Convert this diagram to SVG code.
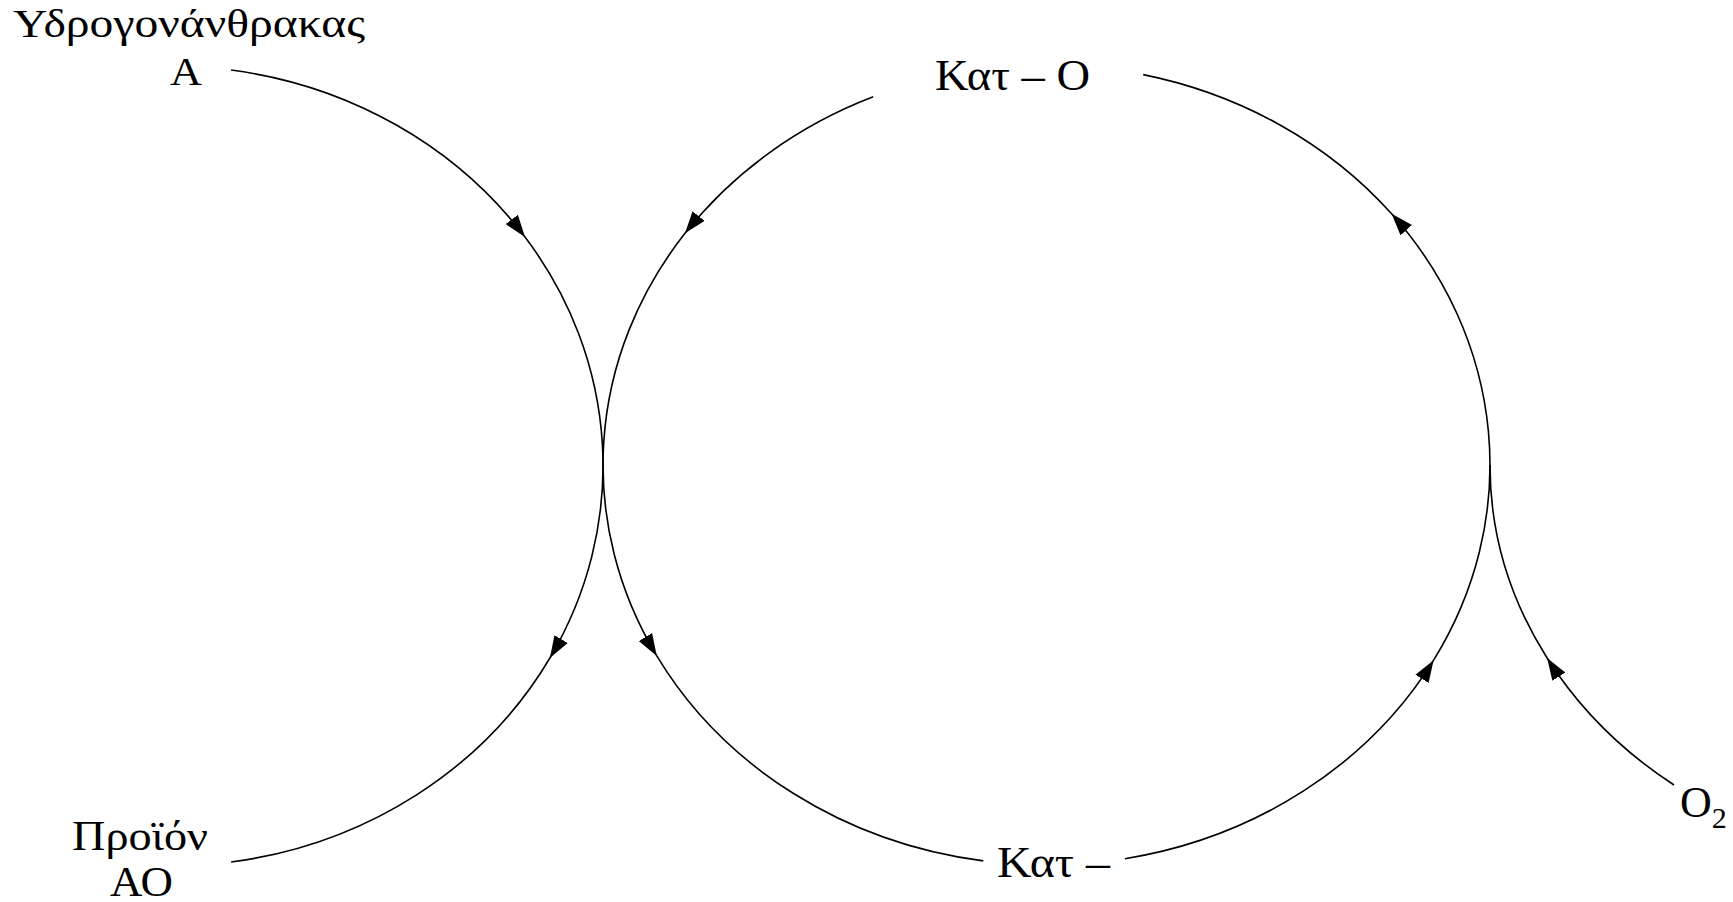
<svg xmlns="http://www.w3.org/2000/svg" width="1733" height="902" viewBox="0 0 1733 902">
<style>
text{font-family:"Liberation Serif","Times New Roman",serif;fill:#000}
.c{fill:none;stroke:#000;stroke-width:1.6;marker-mid:url(#arr)}
</style>
<defs>
<marker id="arr" markerUnits="userSpaceOnUse" markerWidth="22" markerHeight="16" viewBox="0 0 20 14" refX="20" refY="7" orient="auto"><path d="M0,0 L20,7 L0,14 Z" fill="#000"/></marker>
</defs>
<rect width="1733" height="902" fill="#fff"/>
<g id="connectors">
<path class="c" d="M231.1,70 A433 400 0 0 1 525,237 A433 400 0 0 1 549.9,658 A433 400 0 0 1 231.1,862"/>
<path class="c" d="M873.2,96.8 A443.5 400 0 0 0 685,233.3 A443.5 400 0 0 0 656.8,655.9 A443.5 400 0 0 0 983.3,860.9"/>
<path class="c" d="M1125,858.7 A443.5 400 0 0 0 1433.6,660.2 A443.5 400 0 0 0 1391.6,213.8 A443.5 400 0 0 0 1143.2,74.6"/>
<path class="c" d="M1674,785 A460 400 0 0 1 1547.1,658 A460 400 0 0 1 1490,465"/>
</g>
<g id="hydrocarbon">
<text x="13" y="37" font-size="40" textLength="352" lengthAdjust="spacingAndGlyphs">Υδρογονάνθρακας</text>
<text x="170" y="85" font-size="39" textLength="32" lengthAdjust="spacingAndGlyphs">Α</text>
</g>
<g id="cat-o">
<text x="935" y="90" font-size="44" textLength="155" lengthAdjust="spacingAndGlyphs">Κατ – Ο</text>
</g>
<g id="product">
<text x="72" y="850" font-size="43" textLength="136" lengthAdjust="spacingAndGlyphs">Προϊόν</text>
<text x="110" y="896" font-size="42" textLength="63" lengthAdjust="spacingAndGlyphs">ΑΟ</text>
</g>
<g id="cat">
<text x="997" y="877" font-size="44" textLength="113" lengthAdjust="spacingAndGlyphs">Κατ –</text>
</g>
<g id="oxygen">
<text x="1680" y="817" font-size="44">O<tspan font-size="30" dy="11">2</tspan></text>
</g>
</svg>
